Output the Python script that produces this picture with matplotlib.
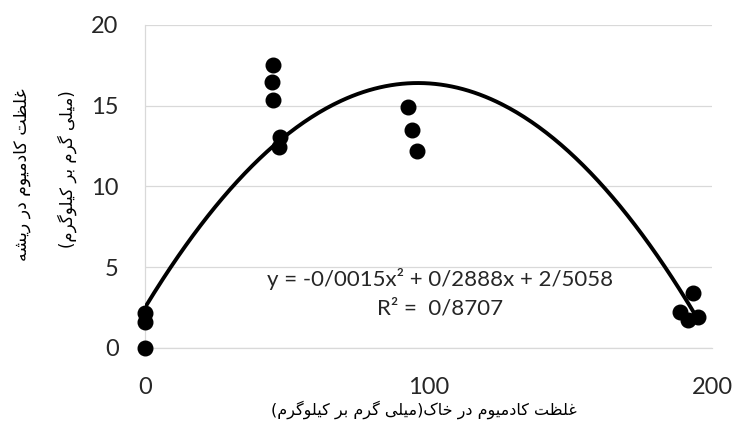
import numpy as np
import matplotlib
matplotlib.use('Agg')
import matplotlib.pyplot as plt

# soil Cd (x) vs root Cd (y)
soil_cd = [0, 0, 0, 44.8, 45.1, 45.1, 47.6, 47.3, 92.8, 94.2, 95.9, 188.7, 191.5, 195.0, 193.3]
root_cd = [0.0, 1.6, 2.17, 16.5, 17.5, 15.35, 13.06, 12.45, 14.9, 13.5, 12.2, 2.2, 1.75, 1.9, 3.4]

# Excel polynomial trendline coefficients (a2, a1, a0)
trend_coef = [-0.0015, 0.2888, 2.5058]
eq_text = 'y = -0/0015x² + 0/2888x + 2/5058'
r2_text = 'R² =  0/8707'

x_ticks = [0, 100, 200]
y_ticks = [0, 5, 10, 15, 20]

x_label = 'غلظت کادمیوم در خاک(میلی گرم بر کیلوگرم)'
y_label_lines = ['غلظت کادمیوم در ریشه', '(میلی گرم بر کیلوگرم)']

# --- minimal Persian shaping (matplotlib has no complex text layout) ---
FORMS = {  # isolated, final, initial, medial
    'ا': ('\uFE8D', '\uFE8E', None, None),
    'د': ('\uFEA9', '\uFEAA', None, None),
    'ر': ('\uFEAD', '\uFEAE', None, None),
    'و': ('\uFEED', '\uFEEE', None, None),
    'ب': ('\uFE8F', '\uFE90', '\uFE91', '\uFE92'),
    'ت': ('\uFE95', '\uFE96', '\uFE97', '\uFE98'),
    'خ': ('\uFEA5', '\uFEA6', '\uFEA7', '\uFEA8'),
    'ش': ('\uFEB5', '\uFEB6', '\uFEB7', '\uFEB8'),
    'ظ': ('\uFEC5', '\uFEC6', '\uFEC7', '\uFEC8'),
    'غ': ('\uFECD', '\uFECE', '\uFECF', '\uFED0'),
    'ل': ('\uFEDD', '\uFEDE', '\uFEDF', '\uFEE0'),
    'م': ('\uFEE1', '\uFEE2', '\uFEE3', '\uFEE4'),
    'ه': ('\uFEE9', '\uFEEA', '\uFEEB', '\uFEEC'),
    'ک': ('\uFB8E', '\uFB8F', '\uFB90', '\uFB91'),
    'گ': ('\uFB92', '\uFB93', '\uFB94', '\uFB95'),
    'ی': ('\uFBFC', '\uFBFD', '\uFBFE', '\uFBFF'),
}


def dual(c):
    return c in FORMS and FORMS[c][2] is not None


def shape_rtl(s):
    out = []
    for i, c in enumerate(s):
        if c not in FORMS:
            out.append(c)
            continue
        prev = s[i - 1] if i > 0 else ''
        nxt = s[i + 1] if i + 1 < len(s) else ''
        j_prev = dual(prev)
        j_next = dual(c) and nxt in FORMS
        iso, fin, ini, med = FORMS[c]
        if j_prev and j_next:
            out.append(med)
        elif j_prev:
            out.append(fin)
        elif j_next:
            out.append(ini)
        else:
            out.append(iso)
    vis = ''.join(reversed(out))
    return vis.translate(str.maketrans('()', ')('))


plt.rcParams['font.family'] = ['Lato', 'DejaVu Sans']

fig = plt.figure(figsize=(7.36, 4.34), dpi=100)
ax = fig.add_axes([145 / 736, 1 - 348 / 434, 567 / 736, 323 / 434])

xx = np.linspace(0, max(soil_cd), 300)
ax.plot(xx, np.polyval(trend_coef, xx), color='black', lw=2.8, zorder=3)
ax.plot(soil_cd, root_cd, 'o', color='black', ms=10.5, clip_on=False, zorder=4)

ax.set_xlim(0, 200)
ax.set_ylim(0, 20)
ax.set_xticks(x_ticks)
ax.set_yticks(y_ticks)
ax.tick_params(length=0, labelsize=17, colors='#262626')
ax.tick_params(axis='x', pad=21)
ax.tick_params(axis='y', pad=19)
ax.yaxis.grid(True, color='#d9d9d9', lw=0.9)
ax.set_axisbelow(True)
for side in ['top', 'right']:
    ax.spines[side].set_visible(False)
for side in ['left', 'bottom']:
    ax.spines[side].set_color('#d9d9d9')
    ax.spines[side].set_linewidth(0.9)

ax.text(0.52, 0.213, eq_text, transform=ax.transAxes, ha='center', va='center',
        fontsize=16, color='#262626')
ax.text(0.52, 0.123, r2_text, transform=ax.transAxes, ha='center', va='center',
        fontsize=16, color='#262626')

persian = dict(family=['DejaVu Sans'], color='black')
fig.text(424 / 736, 1 - 410 / 434, shape_rtl(x_label), ha='center', va='center',
         fontsize=11.5, **persian)
fig.text(22 / 736, 1 - 175 / 434, shape_rtl(y_label_lines[0]), ha='center', va='center',
         rotation=90, fontsize=12.5, **persian)
fig.text(67 / 736, 1 - 169 / 434, shape_rtl(y_label_lines[1]), ha='center', va='center',
         rotation=90, fontsize=12, **persian)

fig.savefig('out.png', dpi=100)
